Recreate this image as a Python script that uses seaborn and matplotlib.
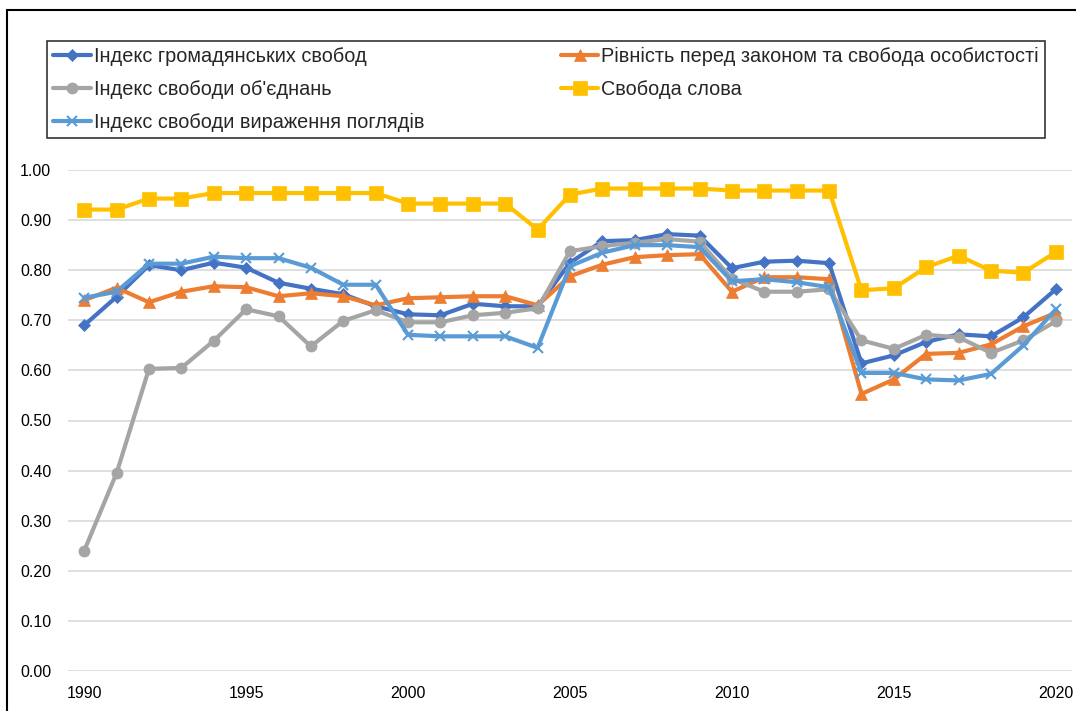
import matplotlib
matplotlib.use("Agg")
import matplotlib.pyplot as plt
from matplotlib.patches import Rectangle
from matplotlib.ticker import FormatStrFormatter
import seaborn as sns
import pandas as pd

years = list(range(1990, 2021))

civil_liberties = [0.690, 0.747, 0.810, 0.800, 0.815, 0.805, 0.775, 0.763, 0.752, 0.728,
                   0.712, 0.710, 0.733, 0.728, 0.728, 0.815, 0.858, 0.860, 0.872, 0.869,
                   0.804, 0.817, 0.819, 0.814, 0.614, 0.630, 0.657, 0.672, 0.668, 0.706, 0.762]
equality_law = [0.740, 0.765, 0.736, 0.757, 0.768, 0.766, 0.748, 0.754, 0.748, 0.730,
                0.744, 0.746, 0.748, 0.748, 0.730, 0.788, 0.811, 0.826, 0.830, 0.832,
                0.757, 0.786, 0.786, 0.782, 0.553, 0.582, 0.633, 0.635, 0.652, 0.688, 0.715]
association = [0.240, 0.395, 0.603, 0.605, 0.659, 0.722, 0.708, 0.648, 0.699, 0.720,
               0.696, 0.696, 0.710, 0.715, 0.724, 0.838, 0.848, 0.855, 0.862, 0.857,
               0.783, 0.757, 0.757, 0.762, 0.660, 0.643, 0.671, 0.666, 0.635, 0.660, 0.698]
free_speech = [0.921, 0.921, 0.943, 0.943, 0.954, 0.954, 0.954, 0.954, 0.954, 0.954,
               0.933, 0.933, 0.933, 0.933, 0.881, 0.951, 0.963, 0.963, 0.963, 0.963,
               0.959, 0.959, 0.959, 0.959, 0.760, 0.764, 0.806, 0.829, 0.799, 0.795, 0.836]
expression = [0.745, 0.757, 0.813, 0.813, 0.827, 0.824, 0.824, 0.805, 0.771, 0.771,
              0.671, 0.668, 0.668, 0.668, 0.645, 0.808, 0.835, 0.850, 0.850, 0.846,
              0.778, 0.782, 0.776, 0.766, 0.595, 0.595, 0.582, 0.580, 0.593, 0.650, 0.722]

labels = ["Індекс громадянських свобод",
          "Рівність перед законом та свобода особистості",
          "Індекс свободи об'єднань",
          "Свобода слова",
          "Індекс свободи вираження поглядів"]
y_ticks = [0.0, 0.1, 0.2, 0.3, 0.4, 0.5, 0.6, 0.7, 0.8, 0.9, 1.0]
x_ticks = [1990, 1995, 2000, 2005, 2010, 2015, 2020]

series = [civil_liberties, equality_law, association, free_speech, expression]
colors = ["#4472C4", "#ED7D31", "#A5A5A5", "#FFC000", "#5B9BD5"]
markers = ["D", "^", "o", "s", "x"]
msizes = [6, 8, 8, 10, 7]

sns.set_style("white")
plt.rcParams["font.family"] = ["Liberation Sans", "DejaVu Sans"]

fig = plt.figure(figsize=(10.76, 7.11), dpi=100)
ax = fig.add_axes([68/1076, 1 - 671/711, (1072-68)/1076, (671-170)/711])

for lab, vals, c, m, ms in zip(labels, series, colors, markers, msizes):
    df = pd.DataFrame({"year": years, "value": vals})
    sns.lineplot(data=df, x="year", y="value", ax=ax, color=c, marker=m,
                 markersize=ms, linewidth=3.0, markeredgecolor=c,
                 markeredgewidth=1.5 if m == "x" else 0.5, label=lab, clip_on=False)

ax.set_xlim(1989.5, 2020.5)
ax.set_ylim(0, 1.0)
ax.set_yticks(y_ticks)
ax.set_xticks(x_ticks)
ax.yaxis.set_major_formatter(FormatStrFormatter("%.2f"))
ax.grid(axis="y", color="#D9D9D9", linewidth=1.2)
ax.grid(axis="x", visible=False)
for s in ax.spines.values():
    s.set_visible(False)
ax.tick_params(axis="both", length=0, labelsize=11.5, colors="black")
ax.tick_params(axis="y", pad=12)
ax.tick_params(axis="x", pad=11)
ax.set_xlabel("")
ax.set_ylabel("")

h, l = ax.get_legend_handles_labels()
order = [0, 2, 4, 1, 3]
leg = fig.legend([h[i] for i in order], [l[i] for i in order], ncol=2,
                 loc="upper left", mode="expand",
                 bbox_to_anchor=(47/1076, 1 - 141/711, (1045-47)/1076, 100/711),
                 fontsize=14.3, frameon=True, fancybox=False, edgecolor="black",
                 handlelength=1.9, handletextpad=0.15, labelspacing=0.7,
                 borderpad=0.3, borderaxespad=0)
leg.get_frame().set_linewidth(1.2)
if ax.legend_:
    ax.legend_.remove()

fig.patches.append(Rectangle((7/1076, -0.5), 2, 0.5 + (1 - 10/711), transform=fig.transFigure,
                             fill=False, edgecolor="black", linewidth=1.5))

fig.savefig("out.png", dpi=100)
